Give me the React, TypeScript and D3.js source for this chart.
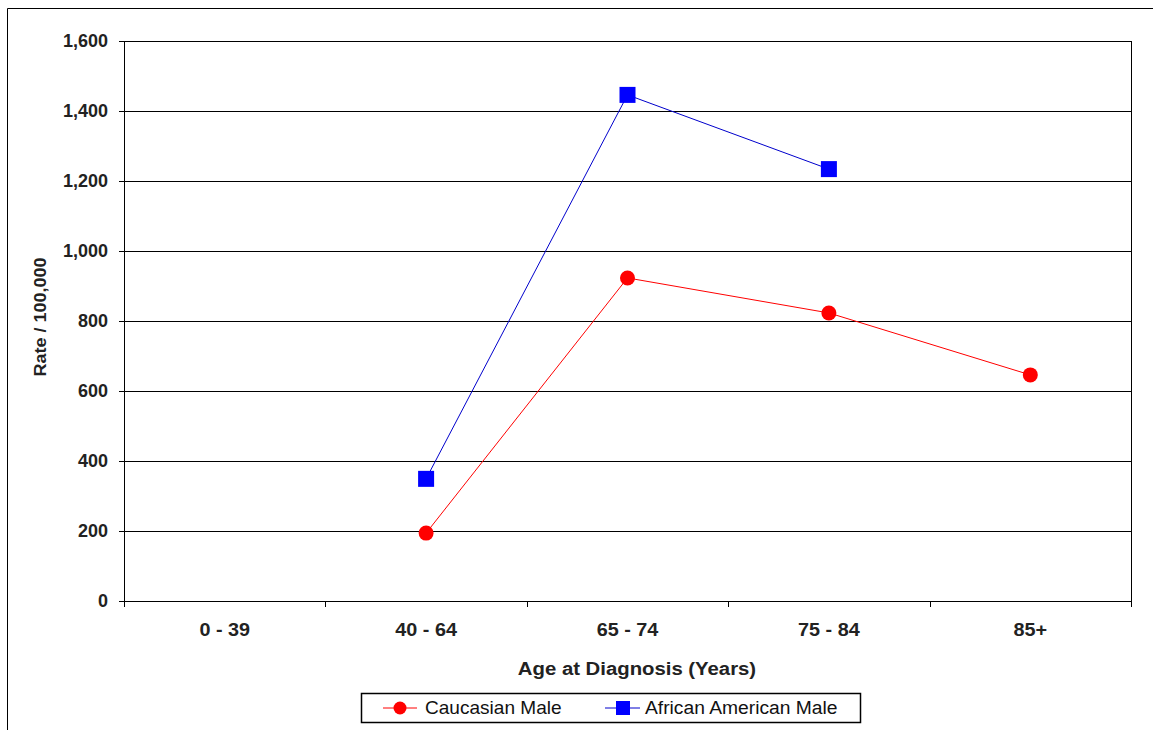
import React from "react";
import * as d3 from "d3";

const categories = ["0 - 39", "40 - 64", "65 - 74", "75 - 84", "85+"];
const caucasianMale: (number | null)[] = [null, 194, 923, 823, 646];
const africanAmericanMale: (number | null)[] = [null, 349, 1446, 1234, null];
const yTicks = [0, 200, 400, 600, 800, 1000, 1200, 1400, 1600];

const W = 1153;
const H = 730;
const left = 124;
const right = 1131;
const top = 41;
const bottom = 601;
const font = "Liberation Sans, Arial, sans-serif";

export default function App() {
  const x = d3.scaleBand<string>().domain(categories).range([left, right]);
  const y = d3.scaleLinear().domain([0, 1600]).range([bottom, top]);
  const fmt = d3.format(",");
  const cx = (c: string) => (x(c) as number) + x.bandwidth() / 2;

  const mkLine = (vals: (number | null)[]) =>
    d3
      .line<number | null>()
      .defined((d) => d != null)
      .x((_, i) => cx(categories[i]))
      .y((d) => y(d as number))(vals) || "";

  const bounds = categories.map((c) => x(c) as number).concat([right]);

  return (
    <svg width={W} height={H} style={{ position: "absolute", left: 0, top: 0 }}>
      <rect x={0} y={0} width={W} height={H} fill="#fff" />
      <line x1={7.5} y1={8.5} x2={W} y2={8.5} stroke="#000" strokeWidth={1} />
      <line x1={7.5} y1={8.5} x2={7.5} y2={H} stroke="#000" strokeWidth={1} />
      {yTicks.map((t) => (
        <line key={t} x1={left} x2={right} y1={Math.round(y(t)) + 0.5} y2={Math.round(y(t)) + 0.5} stroke="#000" strokeWidth={1} />
      ))}
      <line x1={left + 0.5} x2={left + 0.5} y1={top} y2={bottom + 6} stroke="#000" />
      <line x1={right + 0.5} x2={right + 0.5} y1={top} y2={bottom + 0.5} stroke="#000" />
      {yTicks.map((t) => (
        <g key={"yt" + t}>
          <line x1={left - 5} x2={left} y1={Math.round(y(t)) + 0.5} y2={Math.round(y(t)) + 0.5} stroke="#000" />
          <text x={108} y={y(t)} dy="0.36em" textAnchor="end" fontFamily={font} fontWeight="bold" fontSize={18} fill="#222">
            {fmt(t)}
          </text>
        </g>
      ))}
      {bounds.map((b, i) => (
        <line key={"xt" + i} x1={Math.round(b) + 0.5} x2={Math.round(b) + 0.5} y1={bottom} y2={bottom + 6} stroke="#000" />
      ))}
      {categories.map((c) => (
        <text key={c} x={cx(c)} y={636} textAnchor="middle" fontFamily={font} fontWeight="bold" fontSize={18} fill="#222"
          transform={`translate(${cx(c)},0) scale(1.1,1) translate(${-cx(c)},0)`}>
          {c}
        </text>
      ))}
      <text x={637} y={675} textAnchor="middle" fontFamily={font} fontWeight="bold" fontSize={18} fill="#222"
        transform="translate(637,0) scale(1.13,1) translate(-637,0)">
        Age at Diagnosis (Years)
      </text>
      <text transform={`translate(46,317) rotate(-90) scale(1.06,1)`} textAnchor="middle" fontFamily={font} fontWeight="bold" fontSize={17} fill="#222">
        Rate / 100,000
      </text>
      <path d={mkLine(caucasianMale)} fill="none" stroke="#ff0000" strokeWidth={1} />
      <path d={mkLine(africanAmericanMale)} fill="none" stroke="#0000cc" strokeWidth={1} />
      {caucasianMale.map((v, i) =>
        v == null ? null : <circle key={"c" + i} cx={cx(categories[i])} cy={y(v)} r={7.5} fill="#ff0000" />
      )}
      {africanAmericanMale.map((v, i) =>
        v == null ? null : (
          <rect key={"a" + i} x={cx(categories[i]) - 8} y={y(v) - 8} width={16} height={16} fill="#0000ff" />
        )
      )}
      <rect x={361.5} y={693.5} width={499} height={29} fill="#fff" stroke="#000" strokeWidth={1.5} />
      <line x1={383} x2={417} y1={708} y2={708} stroke="#ff0000" />
      <circle cx={400} cy={708} r={6.5} fill="#ff0000" />
      <text x={425} y={714} fontFamily={font} fontSize={18} fill="#111"
        transform="translate(425,0) scale(1.06,1) translate(-425,0)">
        Caucasian Male
      </text>
      <line x1={605} x2={640} y1={708} y2={708} stroke="#0000cc" />
      <rect x={616} y={701} width={14} height={14} fill="#0000ff" />
      <text x={645} y={714} fontFamily={font} fontSize={18} fill="#111"
        transform="translate(645,0) scale(1.07,1) translate(-645,0)">
        African American Male
      </text>
    </svg>
  );
}
